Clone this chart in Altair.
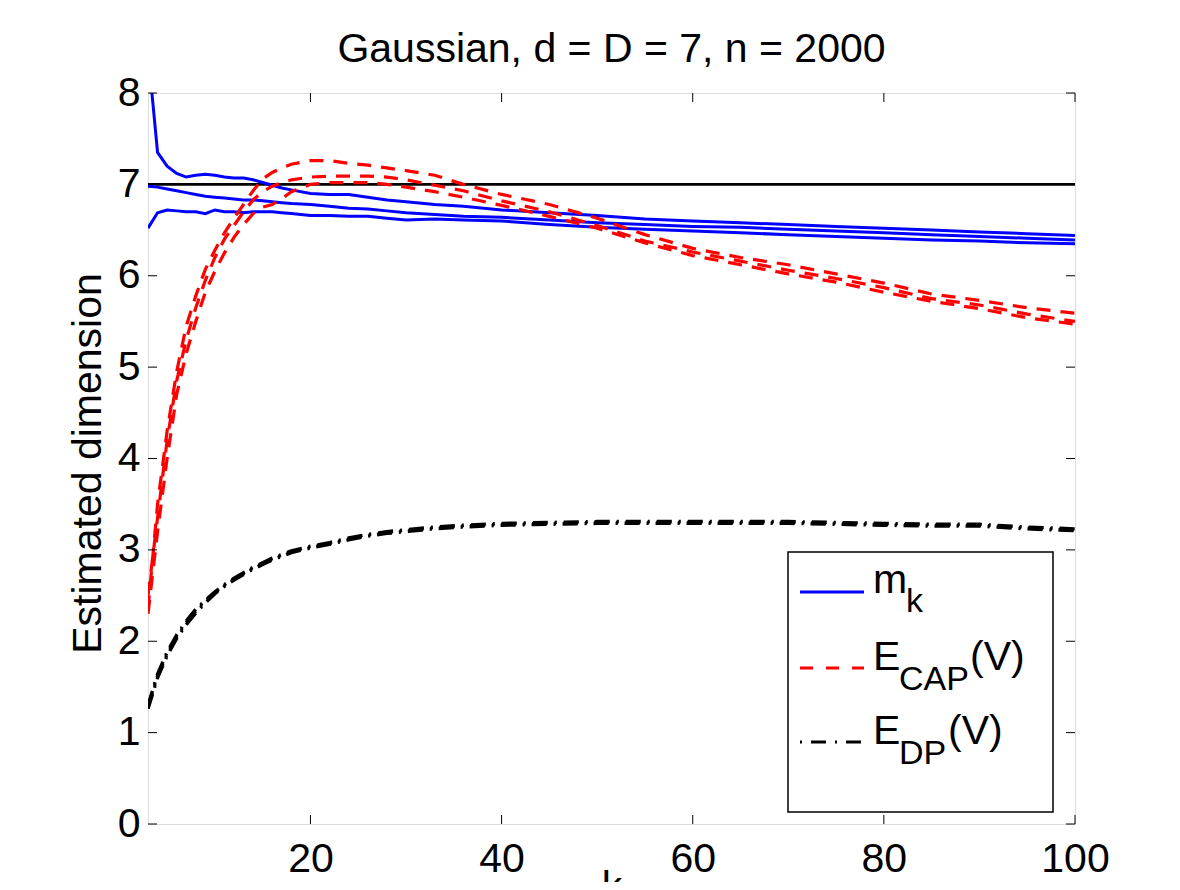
import altair as alt
import pandas as pd

# ---------------- data ----------------
K = [3, 4, 5, 6, 7, 8, 9, 10, 11, 12, 13, 14, 15, 16, 17, 18, 20, 22, 24, 26,
     28, 30, 33, 36, 40, 45, 50, 55, 60, 65, 70, 75, 80, 85, 90, 95, 100]

MK_1 = [8.45, 7.35, 7.20, 7.12, 7.08, 7.10, 7.11, 7.10, 7.08, 7.07, 7.07, 7.05, 7.02, 6.99, 6.96, 6.94, 6.90, 6.89, 6.89, 6.86,
        6.83, 6.81, 6.78, 6.76, 6.72, 6.69, 6.66, 6.62, 6.60, 6.58, 6.56, 6.54, 6.52, 6.50, 6.48, 6.46, 6.44]
MK_2 = [6.98, 6.97, 6.95, 6.93, 6.91, 6.89, 6.87, 6.86, 6.85, 6.84, 6.83, 6.83, 6.82, 6.81, 6.80, 6.79, 6.78, 6.76, 6.74, 6.73,
        6.71, 6.69, 6.67, 6.65, 6.64, 6.61, 6.58, 6.56, 6.54, 6.53, 6.51, 6.49, 6.47, 6.45, 6.43, 6.41, 6.39]
MK_3 = [6.52, 6.69, 6.72, 6.71, 6.70, 6.70, 6.68, 6.72, 6.70, 6.70, 6.69, 6.70, 6.70, 6.70, 6.69, 6.68, 6.66, 6.66, 6.65, 6.65,
        6.63, 6.61, 6.62, 6.61, 6.60, 6.56, 6.53, 6.51, 6.49, 6.47, 6.45, 6.43, 6.41, 6.39, 6.38, 6.36, 6.35]

CAP_1 = [2.35, 3.50, 4.30, 4.95, 5.45, 5.78, 6.07, 6.28, 6.47, 6.63, 6.78, 6.93, 7.06, 7.13, 7.18, 7.22, 7.26, 7.26, 7.23, 7.21,
         7.18, 7.15, 7.10, 7.00, 6.89, 6.78, 6.63, 6.45, 6.30, 6.20, 6.12, 6.02, 5.92, 5.80, 5.73, 5.65, 5.59]
CAP_2 = [2.50, 3.35, 4.20, 4.85, 5.30, 5.65, 5.95, 6.20, 6.40, 6.55, 6.70, 6.83, 6.92, 6.98, 7.02, 7.05, 7.08, 7.09, 7.09, 7.09,
         7.08, 7.05, 6.99, 6.93, 6.82, 6.70, 6.55, 6.38, 6.26, 6.16, 6.06, 5.97, 5.87, 5.75, 5.68, 5.58, 5.50]
CAP_3 = [2.30, 3.20, 4.00, 4.70, 5.15, 5.50, 5.82, 6.05, 6.25, 6.42, 6.56, 6.68, 6.75, 6.78, 6.84, 6.92, 7.00, 7.02, 7.02, 7.02,
         7.00, 6.97, 6.92, 6.86, 6.77, 6.65, 6.52, 6.36, 6.22, 6.12, 6.02, 5.93, 5.82, 5.72, 5.64, 5.54, 5.47]

DP_1 = [1.28, 1.62, 1.86, 2.05, 2.20, 2.33, 2.44, 2.53, 2.61, 2.68, 2.74, 2.80, 2.85, 2.90, 2.94, 2.98, 3.03, 3.07, 3.12, 3.16,
        3.19, 3.21, 3.24, 3.26, 3.28, 3.29, 3.30, 3.30, 3.30, 3.30, 3.30, 3.29, 3.28, 3.27, 3.27, 3.24, 3.22]
DP_2 = [1.30, 1.64, 1.88, 2.07, 2.22, 2.35, 2.45, 2.54, 2.62, 2.69, 2.75, 2.81, 2.86, 2.91, 2.95, 2.99, 3.04, 3.08, 3.13, 3.17,
        3.20, 3.22, 3.25, 3.27, 3.29, 3.30, 3.31, 3.31, 3.31, 3.31, 3.31, 3.30, 3.29, 3.28, 3.28, 3.25, 3.23]
DP_3 = [1.26, 1.60, 1.84, 2.03, 2.18, 2.31, 2.42, 2.52, 2.60, 2.67, 2.73, 2.79, 2.84, 2.89, 2.93, 2.97, 3.02, 3.06, 3.11, 3.15,
        3.18, 3.20, 3.23, 3.25, 3.27, 3.28, 3.29, 3.29, 3.29, 3.29, 3.29, 3.28, 3.27, 3.26, 3.26, 3.23, 3.21]

TRUE_DIM = [7]
X_TICKS = [20, 40, 60, 80, 100]
Y_TICKS = [0, 1, 2, 3, 4, 5, 6, 7, 8]
TITLE = "Gaussian, d = D = 7, n = 2000"

# ---------------- layout ----------------
W, H = 927, 731
FONT = "Liberation Sans"
FS = 41


def long_df(series):
    rows = []
    for name, vals in series.items():
        for k, v in zip(K, vals):
            rows.append({"k": k, "v": v, "run": name})
    return pd.DataFrame(rows)


blue_df = long_df({"m1": MK_1, "m2": MK_2, "m3": MK_3})
red_df = long_df({"c1": CAP_1, "c2": CAP_2, "c3": CAP_3})
black_df = long_df({"d1": DP_1, "d2": DP_2, "d3": DP_3})

xscale = alt.Scale(domain=[3, 100], nice=False, zero=False)
yscale = alt.Scale(domain=[0, 8], nice=False, zero=False)

x_axis = alt.Axis(values=X_TICKS, title="k", ticks=False, tickSize=0, domain=False, grid=False,
                  labelFont=FONT, labelFontSize=FS, labelColor="black", labelPadding=15,
                  labelFlush=False, labelOverlap=False, labelBaseline="top",
                  titleFont=FONT, titleFontSize=FS, titleFontWeight="normal", titleColor="black",
                  titleBaseline="top", titleY=43)
y_axis = alt.Axis(values=Y_TICKS, title="Estimated dimension", ticks=False, tickSize=0, domain=False,
                  grid=False, labelFont=FONT, labelFontSize=FS, labelColor="black", labelPadding=8,
                  labelFlush=False, labelOverlap=False,
                  titleFont=FONT, titleFontSize=FS, titleFontWeight="normal", titleColor="black",
                  titleAngle=270, titleAlign="center", titleBaseline="middle", titleX=-60, titleY=370)

X = alt.X("k:Q", scale=xscale, axis=x_axis)
Y = alt.Y("v:Q", scale=yscale, axis=y_axis)

blue = alt.Chart(blue_df).mark_line(color="#0000ff", strokeWidth=3, clip=True).encode(
    x=X, y=Y, detail="run:N")
red = alt.Chart(red_df).mark_line(color="#ff0000", strokeWidth=3.2, strokeDash=[14, 10], clip=True).encode(
    x=X, y=Y, detail="run:N")
black = alt.Chart(black_df).mark_line(color="black", strokeWidth=3.4, strokeDash=[15, 7, 2, 7], clip=True).encode(
    x=X, y=Y, detail="run:N")
hline = alt.Chart(pd.DataFrame({"v": TRUE_DIM})).mark_rule(color="black", strokeWidth=2.6).encode(y=Y)

# inward ticks on all four sides (MATLAB box style)
yt = pd.DataFrame({"v": Y_TICKS})
xt = pd.DataFrame({"k": X_TICKS})
tick_style = dict(color="black", strokeWidth=1)
yt_left = alt.Chart(yt).mark_rule(**tick_style).encode(y=Y, x=alt.value(0), x2=alt.value(9))
yt_right = alt.Chart(yt).mark_rule(**tick_style).encode(y=Y, x=alt.value(W - 9), x2=alt.value(W))
xt_bottom = alt.Chart(xt).mark_rule(**tick_style).encode(x=X, y=alt.value(H), y2=alt.value(H - 9))
xt_top = alt.Chart(xt).mark_rule(**tick_style).encode(x=X, y=alt.value(0), y2=alt.value(9))

# ---------------- manual legend ----------------
one = pd.DataFrame({"a": [0]})
leg_box = alt.Chart(one).mark_rect(fill="white", stroke="black", strokeWidth=1.5).encode(
    x=alt.value(640), x2=alt.value(905), y=alt.value(459), y2=alt.value(719))
leg_blue = alt.Chart(one).mark_rule(color="#0000ff", strokeWidth=3).encode(
    x=alt.value(652), x2=alt.value(716), y=alt.value(499))
leg_red = alt.Chart(one).mark_rule(color="#ff0000", strokeWidth=3.2, strokeDash=[13, 13]).encode(
    x=alt.value(652), x2=alt.value(716), y=alt.value(575))
leg_black = alt.Chart(one).mark_rule(color="black", strokeWidth=3, strokeDash=[2, 9, 15, 9]).encode(
    x=alt.value(652), x2=alt.value(716), y=alt.value(649))

LEG_TEXT = [
    ("m", 725, 500, 41), ("k", 758, 519, 34),
    ("E", 725, 577, 41), ("CAP", 751, 597, 34), ("(V)", 822, 577, 41),
    ("E", 725, 651, 41), ("DP", 751, 671, 34), ("(V)", 800, 651, 41),
]
leg_texts = [
    alt.Chart(one).mark_text(text=t, font=FONT, fontSize=fs, align="left", baseline="alphabetic",
                             color="black").encode(x=alt.value(x), y=alt.value(y))
    for t, x, y, fs in LEG_TEXT
]

chart = alt.layer(
    hline, blue, red, black, yt_left, yt_right, xt_bottom, xt_top,
    leg_box, leg_blue, leg_red, leg_black, *leg_texts
).properties(
    width=W, height=H,
    title=alt.TitleParams(TITLE, font=FONT, fontSize=FS, fontWeight="normal", color="black",
                          anchor="middle", offset=1),
    autosize=alt.AutoSizeParams(type="none"),
    padding={"left": 140, "top": 85, "right": 97, "bottom": 58},
).configure_view(stroke="black", strokeWidth=1.5).configure(background="white")

chart.save("out.html", embed_options={"renderer": "svg", "actions": False})
